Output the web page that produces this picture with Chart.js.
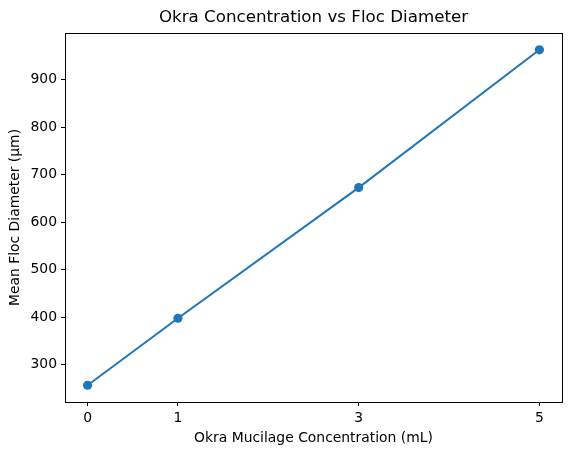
<!DOCTYPE html>
<html>
<head>
<meta charset="utf-8">
<script src="https://cdn.jsdelivr.net/npm/chart.js@4"></script>
<style>
html,body{margin:0;padding:0;background:#fff;}
#c{display:block;}
</style>
</head>
<body>
<canvas id="c" width="571" height="455"></canvas>
<script>
const concentrations = [0, 1, 3, 5];
const flocDiameters = [257, 398, 673, 963];
const xTickValues = [0, 1, 3, 5];
const yTickValues = [300, 400, 500, 600, 700, 800, 900];
const chartTitle = 'Okra Concentration vs Floc Diameter';
const xTitle = 'Okra Mucilage Concentration (mL)';
const yTitle = 'Mean Floc Diameter (µm)';

const FONT = 'DejaVu Sans';
const blue = '#1f77b4';

const frame = {
  id: 'frame',
  afterLayout(chart) {
    const t = chart.titleBlock, a = chart.chartArea;
    if (t) { t.left = a.left; t.right = a.right; t.width = a.right - a.left; }
  },
  afterDraw(chart) {
    const a = chart.chartArea, ctx = chart.ctx;
    ctx.save();
    ctx.strokeStyle = '#000';
    ctx.lineWidth = 1;
    ctx.strokeRect(Math.round(a.left) + 0.5, Math.round(a.top) + 0.5,
      Math.round(a.right - a.left), Math.round(a.bottom - a.top));
    ctx.restore();
  }
};

const yMin = Math.min(...flocDiameters), yMax = Math.max(...flocDiameters);
const yPad = (yMax - yMin) * 0.05;
const xPad = (Math.max(...concentrations) - Math.min(...concentrations)) * 0.05;

new Chart(document.getElementById('c'), {
  type: 'line',
  data: {
    datasets: [{
      data: concentrations.map((x, i) => ({ x: x, y: flocDiameters[i] })),
      borderColor: blue,
      backgroundColor: blue,
      borderWidth: 2,
      pointRadius: 4.6,
      pointHoverRadius: 4.6,
      pointBorderWidth: 0,
      pointBackgroundColor: blue,
      tension: 0,
      fill: false
    }]
  },
  plugins: [frame],
  options: {
    responsive: false,
    animation: false,
    layout: { padding: { right: 9 } },
    plugins: {
      legend: { display: false },
      tooltip: { enabled: false },
      title: {
        display: true,
        text: chartTitle,
        color: '#000',
        font: { family: FONT, size: 16.7, weight: 'normal', lineHeight: 1.2 },
        padding: { top: 8, bottom: 5 }
      }
    },
    scales: {
      x: {
        type: 'linear',
        min: Math.min(...concentrations) - xPad,
        max: Math.max(...concentrations) + xPad,
        afterBuildTicks: s => { s.ticks = xTickValues.map(v => ({ value: v })); },
        afterFit: s => { s.height = 53; },
        grid: { drawOnChartArea: false, color: '#000', tickLength: 4, tickWidth: 1 },
        border: { display: true, color: '#000', width: 1 },
        ticks: { color: '#000', padding: 4, maxRotation: 0, autoSkip: false,
                 font: { family: FONT, size: 13.9 } },
        title: { display: true, text: xTitle, color: '#000',
                 font: { family: FONT, size: 13.9, lineHeight: 1.2 },
                 padding: { top: 2, bottom: 8 } }
      },
      y: {
        type: 'linear',
        min: yMin - yPad,
        max: yMax + yPad,
        afterBuildTicks: s => { s.ticks = yTickValues.map(v => ({ value: v })); },
        afterFit: s => { s.width = 65; },
        grid: { drawOnChartArea: false, color: '#000', tickLength: 4, tickWidth: 1 },
        border: { display: true, color: '#000', width: 1 },
        ticks: { color: '#000', padding: 4, autoSkip: false,
                 font: { family: FONT, size: 13.9 } },
        title: { display: true, text: yTitle, color: '#000',
                 font: { family: FONT, size: 13.9, lineHeight: 1.2 },
                 padding: { top: 7, bottom: 2 } }
      }
    }
  }
});
</script>
</body>
</html>
